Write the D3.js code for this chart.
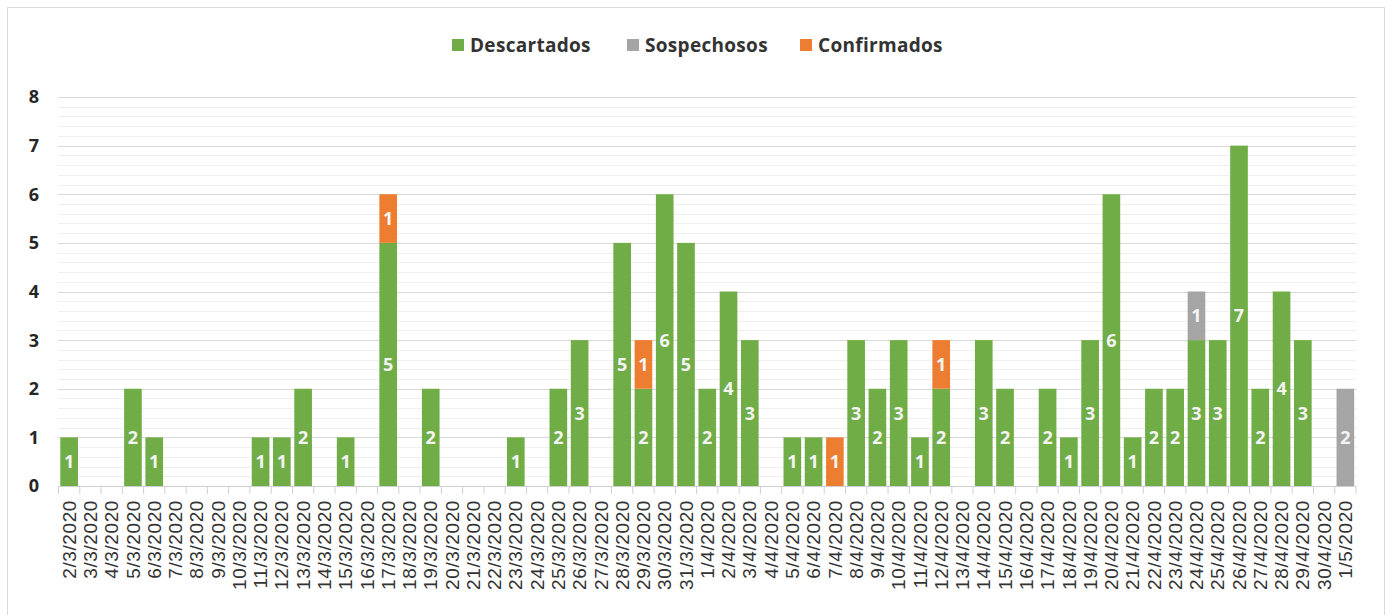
<!DOCTYPE html>
<html><head><meta charset="utf-8">
<script src="https://cdn.jsdelivr.net/npm/d3@7"></script>
<style>body{margin:0;background:#fff;}svg{display:block;}</style>
</head><body>
<svg id="c" width="1392" height="615"></svg>
<script>
const categories = ["2/3/2020","3/3/2020","4/3/2020","5/3/2020","6/3/2020","7/3/2020","8/3/2020","9/3/2020","10/3/2020","11/3/2020","12/3/2020","13/3/2020","14/3/2020","15/3/2020","16/3/2020","17/3/2020","18/3/2020","19/3/2020","20/3/2020","21/3/2020","22/3/2020","23/3/2020","24/3/2020","25/3/2020","26/3/2020","27/3/2020","28/3/2020","29/3/2020","30/3/2020","31/3/2020","1/4/2020","2/4/2020","3/4/2020","4/4/2020","5/4/2020","6/4/2020","7/4/2020","8/4/2020","9/4/2020","10/4/2020","11/4/2020","12/4/2020","13/4/2020","14/4/2020","15/4/2020","16/4/2020","17/4/2020","18/4/2020","19/4/2020","20/4/2020","21/4/2020","22/4/2020","23/4/2020","24/4/2020","25/4/2020","26/4/2020","27/4/2020","28/4/2020","29/4/2020","30/4/2020","1/5/2020"];
const descartados = [1,0,0,2,1,0,0,0,0,1,1,2,0,1,0,5,0,2,0,0,0,1,0,2,3,0,5,2,6,5,2,4,3,0,1,1,0,3,2,3,1,2,0,3,2,0,2,1,3,6,1,2,2,3,3,7,2,4,3,0,0];
const sospechosos = [0,0,0,0,0,0,0,0,0,0,0,0,0,0,0,0,0,0,0,0,0,0,0,0,0,0,0,0,0,0,0,0,0,0,0,0,0,0,0,0,0,0,0,0,0,0,0,0,0,0,0,0,0,1,0,0,0,0,0,0,2];
const confirmados = [0,0,0,0,0,0,0,0,0,0,0,0,0,0,0,1,0,0,0,0,0,0,0,0,0,0,0,1,0,0,0,0,0,0,0,0,1,0,0,0,0,1,0,0,0,0,0,0,0,0,0,0,0,0,0,0,0,0,0,0,0];
const seriesNames = ["Descartados","Sospechosos","Confirmados"];
const yTicks = [0,1,2,3,4,5,6,7,8];
const colors = {"Descartados":"#70AD47","Sospechosos":"#A5A5A5","Confirmados":"#ED7D31"};

const svg = d3.select("#c");
svg.append("rect").attr("x",7.5).attr("y",7.5).attr("width",1377).attr("height",620)
  .attr("fill","#fff").attr("stroke","#d9d9d9");

const x = d3.scaleBand().domain(categories).range([58.5,1356]).paddingInner(0.17).paddingOuter(0.085);
const y = d3.scaleLinear().domain([0,8]).range([486,97]);

// minor grid
const minor = d3.range(0,8.001,0.2).filter(v=>Math.abs(v-Math.round(v))>0.01);
svg.append("g").selectAll("line").data(minor).join("line")
  .attr("x1",58).attr("x2",1356).attr("y1",d=>Math.round(y(d))+0.5).attr("y2",d=>Math.round(y(d))+0.5)
  .attr("stroke","#efefef").attr("stroke-width",1);
svg.append("g").selectAll("line").data(yTicks.slice(1)).join("line")
  .attr("x1",58).attr("x2",1356).attr("y1",d=>Math.round(y(d))+0.5).attr("y2",d=>Math.round(y(d))+0.5)
  .attr("stroke","#d9d9d9").attr("stroke-width",1.2);

const rows = categories.map((c,i)=>({cat:c,Descartados:descartados[i],Sospechosos:sospechosos[i],Confirmados:confirmados[i]}));
const stack = d3.stack().keys(seriesNames)(rows);

const g = svg.append("g");
stack.forEach(s=>{
  g.selectAll(null).data(s.filter(d=>d[1]-d[0]>0)).join("rect")
    .attr("x",d=>x(d.data.cat)).attr("width",x.bandwidth())
    .attr("y",d=>y(d[1])).attr("height",d=>y(d[0])-y(d[1]))
    .attr("fill",colors[s.key]);
  g.selectAll(null).data(s.filter(d=>d[1]-d[0]>0)).join("text")
    .attr("x",d=>x(d.data.cat)+x.bandwidth()/2).attr("y",d=>(y(d[0])+y(d[1]))/2)
    .attr("dy","0.36em").attr("text-anchor","middle")
    .attr("font-family","'Open Sans', sans-serif").attr("font-weight","bold").attr("font-size",18)
    .attr("fill","#f4f4f4").text(d=>d[1]-d[0]);
});

// x axis
const xa = svg.append("g").attr("transform","translate(0,486)");
xa.append("line").attr("x1",58).attr("x2",1356).attr("y1",0.5).attr("y2",0.5).attr("stroke","#d0d0d0");
const bounds = d3.range(0,categories.length+1).map(i=>58.5+i*(1356-58.5)/categories.length);
xa.selectAll("line.t").data(bounds).join("line").attr("class","t")
  .attr("x1",d=>d).attr("x2",d=>d).attr("y1",0).attr("y2",8).attr("stroke","#d0d0d0");
xa.selectAll("text").data(categories).join("text")
  .attr("transform",d=>`translate(${x(d)+x.bandwidth()/2},14) rotate(-90)`)
  .attr("dy","0.35em").attr("text-anchor","end")
  .attr("font-family","'Liberation Sans', Arial, sans-serif").attr("font-size",19)
  .attr("letter-spacing",0.6)
  .attr("fill","#333").text(d=>d);

// y axis labels
svg.append("g").selectAll("text").data(yTicks).join("text")
  .attr("x",39).attr("y",d=>y(d)).attr("dy","0.36em").attr("text-anchor","end")
  .attr("font-family","'Open Sans', sans-serif").attr("font-weight","bold").attr("font-size",18)
  .attr("fill","#262626").text(d=>d);

// legend
const legX = [452,627,800];
const lg = svg.append("g");
seriesNames.forEach((n,i)=>{
  lg.append("rect").attr("x",legX[i]).attr("y",39).attr("width",12).attr("height",12).attr("fill",colors[n]);
  lg.append("text").attr("x",legX[i]+18).attr("y",45).attr("dy","0.36em")
    .attr("font-family","'Open Sans', sans-serif").attr("font-weight","bold").attr("font-size",19)
    .attr("letter-spacing",0.3)
    .attr("fill","#333").text(n);
});
</script>
</body></html>
